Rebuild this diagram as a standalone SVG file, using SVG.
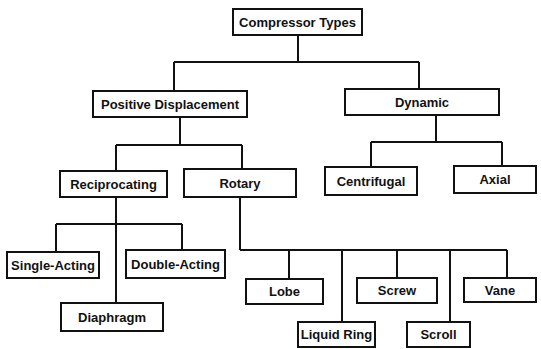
<svg xmlns="http://www.w3.org/2000/svg" width="541" height="349" viewBox="0 0 541 349">
  <style>
    .box { fill: #fff; stroke: #111; stroke-width: 2; }
    .lbl { font-family: "Liberation Sans", Arial, sans-serif; font-size: 13px; font-weight: bold; fill: #111; text-anchor: middle; dominant-baseline: central; }
    .wire { fill: none; stroke: #111; stroke-width: 2; }
  </style>
  <rect width="541" height="349" fill="#fff"/>

  <g id="connectors" class="wire">
    <!-- root to level 1 -->
    <path d="M298 35V62M174 62H419M174 62V91M419 62V89"/>
    <!-- positive displacement branch -->
    <path d="M180 117V145M116 145H242M116 145V171M242 145V169"/>
    <!-- dynamic branch -->
    <path d="M436 115V142M371 142H502M371 142V167M502 142V166"/>
    <!-- reciprocating branch -->
    <path d="M116 197V303M56 224H182M56 224V252M182 224V250"/>
    <!-- rotary branch -->
    <path d="M240 197V250M240 250H507M289 250V279M342 250V322M397 250V278M450 250V322M507 250V278"/>
  </g>

  <g id="compressor-types"><rect class="box" x="233" y="9" width="129" height="26"/><text class="lbl" x="297.5" y="22">Compressor Types</text></g>
  <g id="positive-displacement"><rect class="box" x="93" y="91" width="154" height="26"/><text class="lbl" x="170" y="104">Positive Displacement</text></g>
  <g id="dynamic"><rect class="box" x="345" y="89" width="154" height="26"/><text class="lbl" x="422" y="102">Dynamic</text></g>
  <g id="reciprocating"><rect class="box" x="60" y="171" width="107" height="26"/><text class="lbl" x="113.5" y="184">Reciprocating</text></g>
  <g id="rotary"><rect class="box" x="184" y="169" width="112" height="28"/><text class="lbl" x="240" y="183">Rotary</text></g>
  <g id="centrifugal"><rect class="box" x="325" y="167" width="92" height="28"/><text class="lbl" x="371" y="181">Centrifugal</text></g>
  <g id="axial"><rect class="box" x="454" y="166" width="82" height="27"/><text class="lbl" x="495" y="179.5">Axial</text></g>
  <g id="single-acting"><rect class="box" x="7" y="252" width="92" height="26"/><text class="lbl" x="53" y="265">Single-Acting</text></g>
  <g id="double-acting"><rect class="box" x="126" y="250" width="99" height="28"/><text class="lbl" x="175.5" y="264">Double-Acting</text></g>
  <g id="diaphragm"><rect class="box" x="61" y="303" width="102" height="28"/><text class="lbl" x="112" y="317">Diaphragm</text></g>
  <g id="lobe"><rect class="box" x="246" y="279" width="77" height="25"/><text class="lbl" x="284.5" y="291.5">Lobe</text></g>
  <g id="screw"><rect class="box" x="357" y="278" width="80" height="25"/><text class="lbl" x="397" y="290.5">Screw</text></g>
  <g id="vane"><rect class="box" x="464" y="278" width="72" height="24"/><text class="lbl" x="500" y="290">Vane</text></g>
  <g id="liquid-ring"><rect class="box" x="298" y="322" width="77" height="25"/><text class="lbl" x="336.5" y="334.5">Liquid Ring</text></g>
  <g id="scroll"><rect class="box" x="407" y="322" width="63" height="25"/><text class="lbl" x="438.5" y="334.5">Scroll</text></g>
</svg>
